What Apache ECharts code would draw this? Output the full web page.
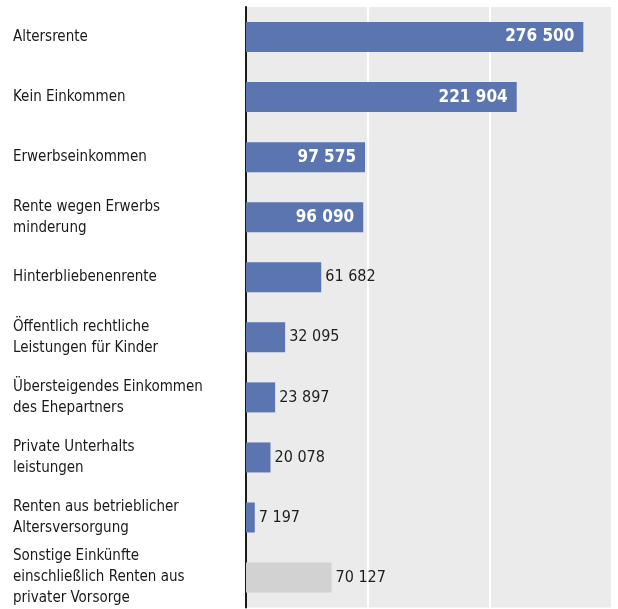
<!DOCTYPE html>
<html>
<head>
<meta charset="utf-8">
<script src="https://cdn.jsdelivr.net/npm/echarts@6/dist/echarts.min.js"></script>
<style>
html,body{margin:0;padding:0;background:#fff;}
#main{width:618px;height:609px;}
</style>
</head>
<body>
<div id="main"></div>
<script>
var categories = [
    'Altersrente',
    'Kein Einkommen',
    'Erwerbseinkommen',
    'Rente wegen Erwerbs\nminderung',
    'Hinterbliebenenrente',
    'Öffentlich rechtliche\nLeistungen für Kinder',
    'Übersteigendes Einkommen\ndes Ehepartners',
    'Private Unterhalts\nleistungen',
    'Renten aus betrieblicher\nAltersversorgung',
    'Sonstige Einkünfte\neinschließlich Renten aus\nprivater Vorsorge'
];
var values = [276500, 221904, 97575, 96090, 61682, 32095, 23897, 20078, 7197, 70127];
var insideCount = 4; // the first four bars carry their label inside

var FONT = '"Liberation Sans Narrow", "DejaVu Sans Condensed", sans-serif';

function fmt(v){
    return String(v).replace(/\B(?=(\d{3})+(?!\d))/g, ' ');
}

var myChart = echarts.init(document.getElementById('main'));

var barData = values.map(function(v, i){
    var last = i === values.length - 1;
    var inside = i < insideCount;
    return {
        value: v,
        itemStyle: {color: last ? '#d2d2d2' : '#5a75b0'},
        label: inside ? {
            position: 'insideRight',
            distance: 9,
            color: '#ffffff',
            fontWeight: 'bold',
            fontSize: 17
        } : {
            position: 'right',
            distance: 4,
            color: '#1e1e1e'
        }
    };
});

var option = {
    animation: false,
    grid: {
        left: 246,
        right: 6,
        top: 7,
        bottom: 0,
        show: true,
        backgroundColor: '#ebebeb',
        borderWidth: 0
    },
    xAxis: {
        type: 'value',
        min: 0,
        max: 300000,
        interval: 100000,
        axisLabel: {show: false},
        axisLine: {show: false},
        axisTick: {show: false},
        splitLine: {lineStyle: {color: '#ffffff', width: 2}}
    },
    yAxis: {
        type: 'category',
        inverse: true,
        data: categories,
        axisLine: {show: true, lineStyle: {color: '#1a1a1a', width: 2}},
        axisTick: {show: false},
        axisLabel: {
            align: 'left',
            margin: 233,
            color: '#1a1a1a',
            fontFamily: FONT,
            fontSize: 15,
            lineHeight: 21
        }
    },
    series: [{
        type: 'bar',
        data: barData,
        barWidth: 30,
        label: {
            show: true,
            fontFamily: FONT,
            fontSize: 16,
            formatter: function(p){ return fmt(p.value); }
        }
    }]
};
myChart.setOption(option);
</script>
</body>
</html>
